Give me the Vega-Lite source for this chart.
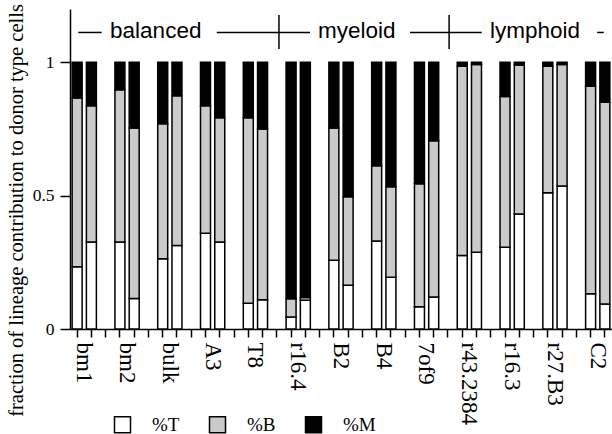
{
  "$schema": "https://vega.github.io/schema/vega-lite/v6.json",
  "autosize": "none",
  "width": 542,
  "height": 320,
  "padding": {"left": 70, "top": 9, "right": 0, "bottom": 105},
  "config": {
    "view": {"stroke": null},
    "axis": {"domainColor": "black", "tickColor": "black", "labelColor": "black", "titleColor": "black", "domainWidth": 1.5, "tickWidth": 1.5, "grid": false}
  },
  "datasets": {
    "bars": [
      {"slot": "bm1|a", "%T": 0.233, "%B": 0.633, "%M": 0.134},
      {"slot": "bm1|b", "%T": 0.326, "%B": 0.511, "%M": 0.163},
      {"slot": "bm2|a", "%T": 0.326, "%B": 0.571, "%M": 0.103},
      {"slot": "bm2|b", "%T": 0.114, "%B": 0.640, "%M": 0.246},
      {"slot": "bulk|a", "%T": 0.263, "%B": 0.507, "%M": 0.230},
      {"slot": "bulk|b", "%T": 0.313, "%B": 0.562, "%M": 0.125},
      {"slot": "A3|a", "%T": 0.359, "%B": 0.478, "%M": 0.163},
      {"slot": "A3|b", "%T": 0.326, "%B": 0.466, "%M": 0.208},
      {"slot": "T8|a", "%T": 0.097, "%B": 0.695, "%M": 0.208},
      {"slot": "T8|b", "%T": 0.110, "%B": 0.640, "%M": 0.250},
      {"slot": "r16.4|a", "%T": 0.045, "%B": 0.068, "%M": 0.887},
      {"slot": "r16.4|b", "%T": 0.108, "%B": 0.010, "%M": 0.882},
      {"slot": "B2|a", "%T": 0.258, "%B": 0.496, "%M": 0.246},
      {"slot": "B2|b", "%T": 0.164, "%B": 0.332, "%M": 0.504},
      {"slot": "B4|a", "%T": 0.330, "%B": 0.282, "%M": 0.388},
      {"slot": "B4|b", "%T": 0.194, "%B": 0.339, "%M": 0.467},
      {"slot": "7of9|a", "%T": 0.083, "%B": 0.462, "%M": 0.455},
      {"slot": "7of9|b", "%T": 0.120, "%B": 0.586, "%M": 0.294},
      {"slot": "r43.2384|a", "%T": 0.276, "%B": 0.709, "%M": 0.015},
      {"slot": "r43.2384|b", "%T": 0.288, "%B": 0.704, "%M": 0.008},
      {"slot": "r16.3|a", "%T": 0.307, "%B": 0.565, "%M": 0.128},
      {"slot": "r16.3|b", "%T": 0.431, "%B": 0.559, "%M": 0.010},
      {"slot": "r27.B3|a", "%T": 0.511, "%B": 0.474, "%M": 0.015},
      {"slot": "r27.B3|b", "%T": 0.536, "%B": 0.456, "%M": 0.008},
      {"slot": "C2|a", "%T": 0.132, "%B": 0.778, "%M": 0.090},
      {"slot": "C2|b", "%T": 0.094, "%B": 0.756, "%M": 0.150}
    ],
    "ranks": [
      {"key": "%T", "rank": 0},
      {"key": "%B", "rank": 1},
      {"key": "%M", "rank": 2}
    ],
    "segments": [
      {"u": 0.58, "u2": 2.22},
      {"u": 10.29, "u2": 16.83},
      {"u": 23.84, "u2": 28.87},
      {"u": 36.96, "u2": 37.42}
    ],
    "dividers": [
      {"u": 14.65},
      {"u": 26.58}
    ],
    "groups": [
      {"u": 2.81, "name": "balanced"},
      {"u": 17.39, "name": "myeloid"},
      {"u": 29.45, "name": "lymphoid"}
    ]
  },
  "layer": [
    {
      "data": {"name": "bars"},
      "transform": [
        {"fold": ["%T", "%B", "%M"], "as": ["key", "value"]},
        {"lookup": "key", "from": {"data": {"name": "ranks"}, "key": "key", "fields": ["rank"]}}
      ],
      "mark": {"type": "bar", "stroke": "black", "strokeWidth": 1.5},
      "encoding": {
        "x": {
          "field": "slot",
          "type": "nominal",
          "scale": {
            "domain": ["bm1|a","bm1|b","bm1|c","bm2|a","bm2|b","bm2|c","bulk|a","bulk|b","bulk|c","A3|a","A3|b","A3|c","T8|a","T8|b","T8|c","r16.4|a","r16.4|b","r16.4|c","B2|a","B2|b","B2|c","B4|a","B4|b","B4|c","7of9|a","7of9|b","7of9|c","r43.2384|a","r43.2384|b","r43.2384|c","r16.3|a","r16.3|b","r16.3|c","r27.B3|a","r27.B3|b","r27.B3|c","C2|a","C2|b"],
            "paddingInner": 0.3,
            "paddingOuter": 0.15
          },
          "axis": {
            "title": null,
            "labelExpr": "split(datum.value, '|')[1] == 'a' ? split(datum.value, '|')[0] : ''",
            "labelAngle": 90,
            "labelAlign": "left",
            "labelBaseline": "alphabetic",
            "labelFont": "Liberation Serif",
            "labelFontSize": 23,
            "labelPadding": 5,
            "labelOverlap": false,
            "labelLimit": 200,
            "tickSize": 8
          }
        },
        "y": {
          "field": "value",
          "type": "quantitative",
          "stack": "zero",
          "scale": {"domain": [0, 1.2], "nice": false, "zero": true},
          "axis": {
            "values": [0, 0.5, 1],
            "format": "~g",
            "labelFont": "Liberation Serif",
            "labelFontSize": 17.5,
            "labelPadding": 6,
            "tickSize": 10,
            "title": "fraction of lineage contribution to donor type cells",
            "titleFont": "Liberation Serif",
            "titleFontSize": 20.5,
            "titleFontWeight": "normal",
            "titleX": -54,
            "titleY": 201,
            "titleAngle": -90,
            "titleAlign": "center",
            "titleBaseline": "middle"
          }
        },
        "fill": {
          "field": "key",
          "type": "nominal",
          "scale": {"domain": ["%T", "%B", "%M"], "range": ["#ffffff", "#cacaca", "#000000"]},
          "legend": {
            "title": null,
            "orient": "none",
            "legendX": 43,
            "legendY": 406,
            "padding": 0,
            "direction": "horizontal",
            "symbolType": "square",
            "symbolSize": 256,
            "symbolStrokeColor": "black",
            "symbolStrokeWidth": 1.5,
            "symbolOpacity": 1,
            "labelFont": "Liberation Serif",
            "labelFontSize": 19,
            "labelColor": "black",
            "labelOffset": 20,
            "columnPadding": 26
          }
        },
        "order": {"field": "rank", "type": "quantitative"}
      }
    },
    {
      "data": {"name": "segments"},
      "mark": {"type": "rule", "stroke": "black", "strokeWidth": 1.5},
      "encoding": {
        "x": {"field": "u", "type": "quantitative", "scale": {"domain": [0, 38], "nice": false, "zero": false}, "axis": null},
        "x2": {"field": "u2"},
        "y": {"datum": 1.112}
      }
    },
    {
      "data": {"name": "dividers"},
      "mark": {"type": "rule", "stroke": "black", "strokeWidth": 1.5},
      "encoding": {
        "x": {"field": "u", "type": "quantitative", "scale": {"domain": [0, 38], "nice": false, "zero": false}, "axis": null},
        "y": {"datum": 1.05},
        "y2": {"datum": 1.1775}
      }
    },
    {
      "data": {"name": "groups"},
      "mark": {"type": "text", "align": "left", "baseline": "alphabetic", "font": "Liberation Sans", "fontSize": 22.5, "color": "black"},
      "encoding": {
        "x": {"field": "u", "type": "quantitative", "scale": {"domain": [0, 38], "nice": false, "zero": false}, "axis": null},
        "y": {"datum": 1.09},
        "text": {"field": "name"}
      }
    }
  ],
  "resolve": {"scale": {"x": "independent"}, "axis": {"x": "independent"}}
}
